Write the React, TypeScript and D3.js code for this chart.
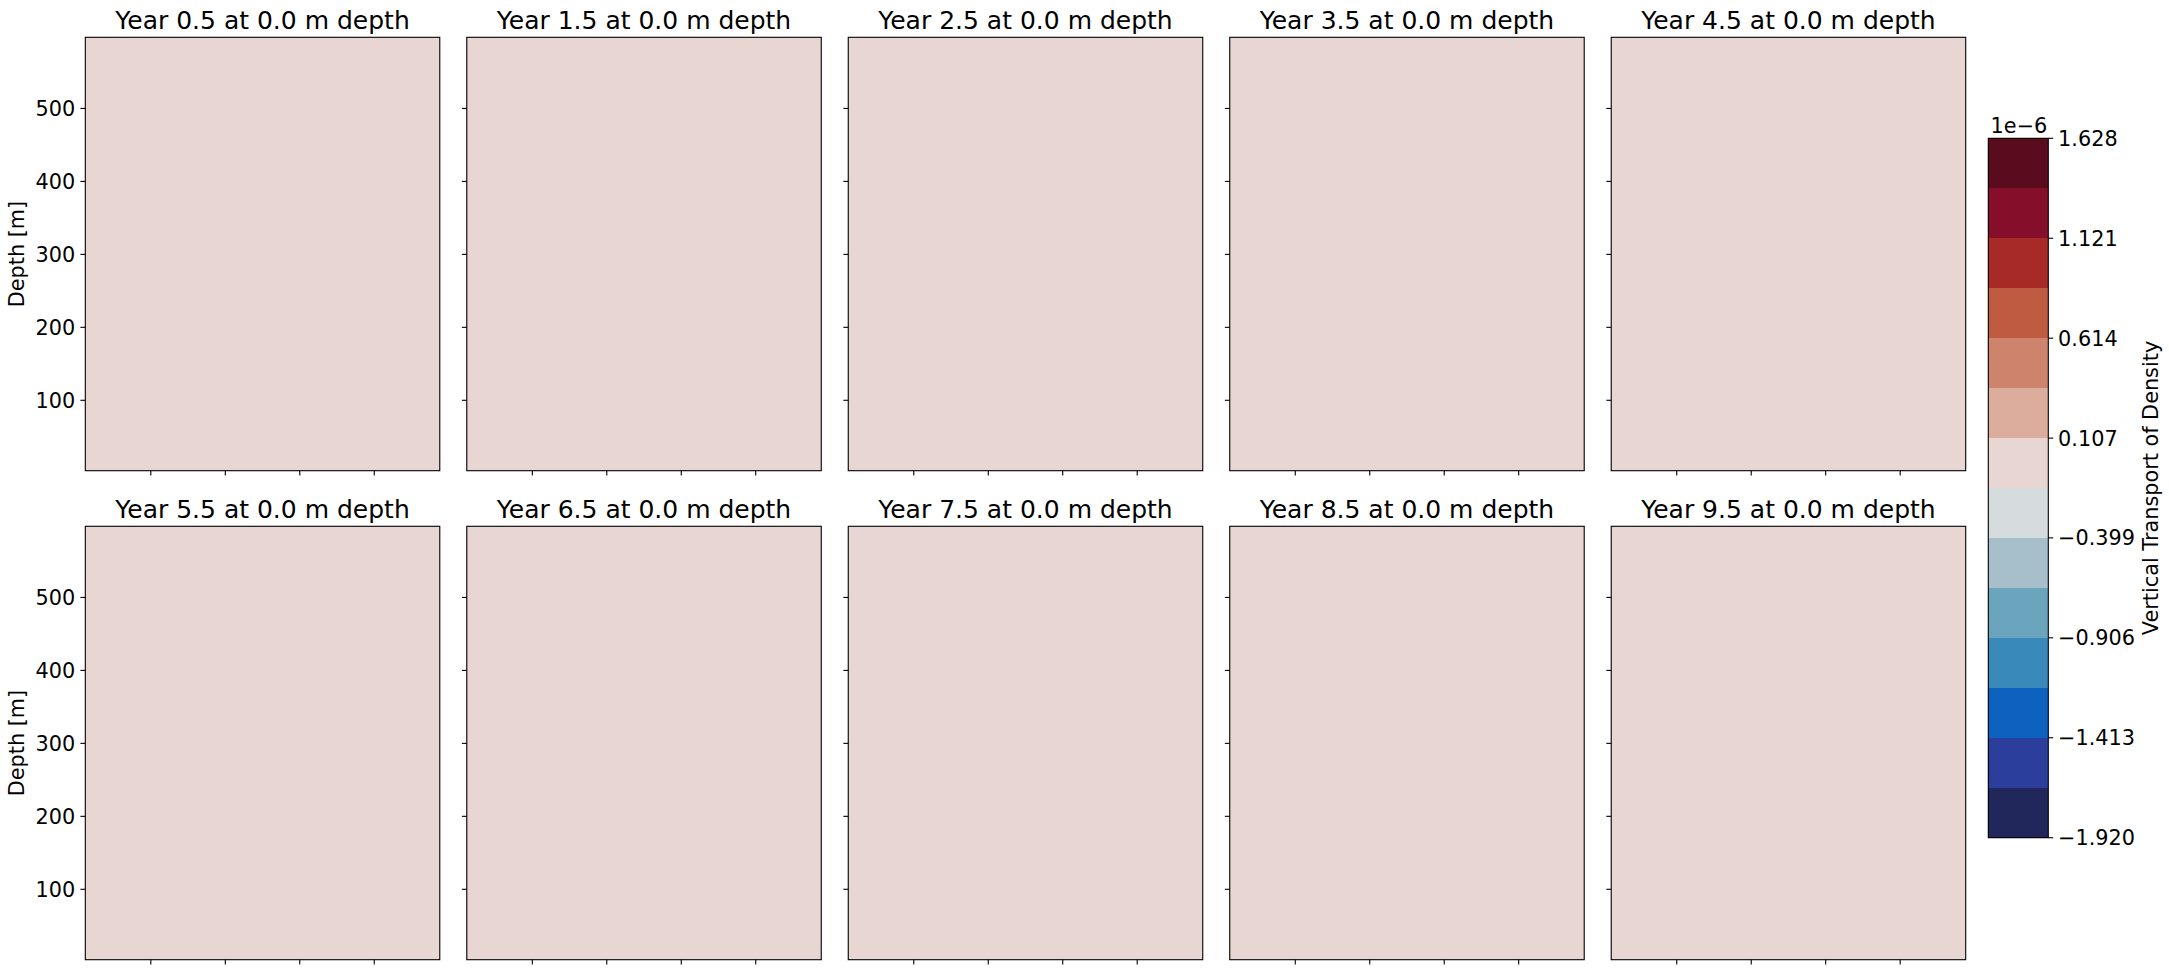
import { useEffect, useRef } from 'react';
import * as d3 from 'd3';

const years = [0.5, 1.5, 2.5, 3.5, 4.5, 5.5, 6.5, 7.5, 8.5, 9.5];
const sliceDepth = 0.0;
// field is uniform zero in every panel
const fieldValues = [0, 0, 0, 0, 0, 0, 0, 0, 0, 0];

const levelMin = -1.92;
const levelMax = 1.628;
const nBands = 14;
const cbarTicks = [-1.92, -1.413, -0.906, -0.399, 0.107, 0.614, 1.121, 1.628];
const bandColors = [
  '#22275b', '#2b3e9b', '#0c62be', '#3989bb', '#6aa5bd', '#a7bfca', '#d6dbdd',
  '#e8d6d3', '#dcac9c', '#ce846c', '#bf5b40', '#a72a26', '#850e2b', '#5a0c1e',
];

const depthDomain: [number, number] = [3.5, 597.5];
const depthTicks = [100, 200, 300, 400, 500];
const xDomain: [number, number] = [0.12, 4.88];
const xTicks = [1, 2, 3, 4];

const W = 2169;
const H = 975;
const FONT = 'DejaVu Sans, sans-serif';

export default function App() {
  const svgRef = useRef<SVGSVGElement>(null);

  useEffect(() => {
    if (!svgRef.current) return;
    const svg = d3.select(svgRef.current);
    svg.selectAll('*').remove();

    const left = 85.3;
    const right = 1965.7;
    const top = 37.3;
    const bottom = 959.7;
    const colGap = 27;
    const rowGap = 55.6;
    const pw = (right - left - 4 * colGap) / 5;
    const ph = (bottom - top - rowGap) / 2;

    const levels = d3.range(nBands + 1).map((i) => levelMin + (i * (levelMax - levelMin)) / nBands);
    const colorFor = (v: number) => {
      const i = Math.max(0, Math.min(nBands - 1, d3.bisectRight(levels, v) - 1));
      return bandColors[i];
    };

    const x = d3.scaleLinear().domain(xDomain).range([0, pw]);
    const y = d3.scaleLinear().domain(depthDomain).range([ph, 0]);

    years.forEach((yr, i) => {
      const col = i % 5;
      const row = Math.floor(i / 5);
      const g = svg
        .append('g')
        .attr('transform', `translate(${left + col * (pw + colGap)},${top + row * (ph + rowGap)})`);

      g.append('rect')
        .attr('x', x(xDomain[0]))
        .attr('y', y(depthDomain[1]))
        .attr('width', x(xDomain[1]) - x(xDomain[0]))
        .attr('height', y(depthDomain[0]) - y(depthDomain[1]))
        .attr('fill', colorFor(fieldValues[i]));

      // x ticks, no labels
      g.append('g')
        .selectAll('line')
        .data(xTicks)
        .join('line')
        .attr('x1', (d) => x(d))
        .attr('x2', (d) => x(d))
        .attr('y1', ph)
        .attr('y2', ph + 4.9)
        .attr('stroke', '#000')
        .attr('stroke-width', 1.1);

      // y ticks
      g.append('g')
        .selectAll('line')
        .data(depthTicks)
        .join('line')
        .attr('x1', -4.9)
        .attr('x2', 0)
        .attr('y1', (d) => y(d))
        .attr('y2', (d) => y(d))
        .attr('stroke', '#000')
        .attr('stroke-width', 1.1);

      if (col === 0) {
        g.append('g')
          .selectAll('text')
          .data(depthTicks)
          .join('text')
          .attr('x', -10)
          .attr('y', (d) => y(d))
          .attr('dy', '0.36em')
          .attr('text-anchor', 'end')
          .attr('font-family', FONT)
          .attr('font-size', 20.8)
          .text((d) => d);

        g.append('text')
          .attr('transform', `translate(${24 - left},${ph / 2}) rotate(-90)`)
          .attr('text-anchor', 'middle')
          .attr('font-family', FONT)
          .attr('font-size', 20.8)
          .text('Depth [m]');
      }

      g.append('rect')
        .attr('width', pw)
        .attr('height', ph)
        .attr('fill', 'none')
        .attr('stroke', '#000')
        .attr('stroke-width', 1.1);

      g.append('text')
        .attr('x', pw / 2)
        .attr('y', -8.3)
        .attr('text-anchor', 'middle')
        .attr('font-family', FONT)
        .attr('font-size', 25)
        .text(`Year ${yr.toFixed(1)} at ${sliceDepth.toFixed(1)} m depth`);
    });

    // Colorbar
    const cbX = 1988.3;
    const cbW = 60;
    const cbTop = 138.3;
    const cbBot = 837.7;
    const cy = d3.scaleLinear().domain([levelMin, levelMax]).range([cbBot, cbTop]);
    const cb = svg.append('g').attr('transform', `translate(${cbX},0)`);

    cb.selectAll('rect.band')
      .data(d3.range(nBands))
      .join('rect')
      .attr('class', 'band')
      .attr('x', 0)
      .attr('width', cbW)
      .attr('y', (k) => cy(levels[k + 1]))
      .attr('height', (k) => cy(levels[k]) - cy(levels[k + 1]))
      .attr('fill', (k) => bandColors[k])
      .attr('shape-rendering', 'crispEdges');

    cb.append('rect')
      .attr('y', cbTop)
      .attr('width', cbW)
      .attr('height', cbBot - cbTop)
      .attr('fill', 'none')
      .attr('stroke', '#000')
      .attr('stroke-width', 1.1);

    cb.selectAll('line.tick')
      .data(cbarTicks)
      .join('line')
      .attr('class', 'tick')
      .attr('x1', cbW)
      .attr('x2', cbW + 4.9)
      .attr('y1', (d) => cy(d))
      .attr('y2', (d) => cy(d))
      .attr('stroke', '#000')
      .attr('stroke-width', 1.1);

    cb.selectAll('text.tl')
      .data(cbarTicks)
      .join('text')
      .attr('class', 'tl')
      .attr('x', cbW + 9.8)
      .attr('y', (d) => cy(d))
      .attr('dy', '0.36em')
      .attr('font-family', FONT)
      .attr('font-size', 20.8)
      .text((d) => d.toFixed(3).replace('-', '\u2212'));

    cb.append('text')
      .attr('x', cbW - 1)
      .attr('y', cbTop - 5.5)
      .attr('text-anchor', 'end')
      .attr('font-family', FONT)
      .attr('font-size', 20.8)
      .text('1e\u22126');

    svg
      .append('text')
      .attr('transform', `translate(2158,${(cbTop + cbBot) / 2}) rotate(-90)`)
      .attr('text-anchor', 'middle')
      .attr('font-family', FONT)
      .attr('font-size', 20.8)
      .text('Vertical Transport of Density');
  }, []);

  return (
    <svg
      ref={svgRef}
      width={W}
      height={H}
      style={{ position: 'absolute', left: 0, top: 0, background: '#fff' }}
    />
  );
}
